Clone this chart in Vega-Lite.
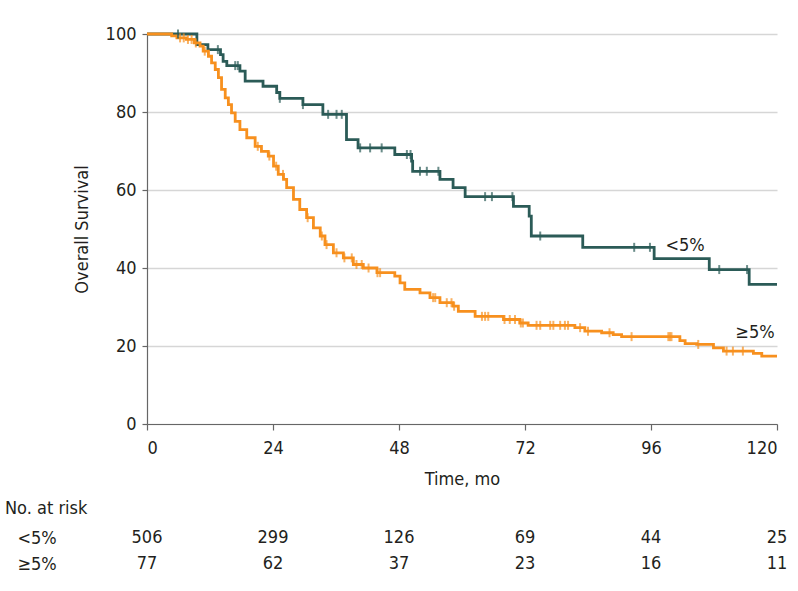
{
  "$schema": "https://vega.github.io/schema/vega-lite/v6.json",
  "padding": {"left": 5, "top": 25, "right": 5, "bottom": 5},
  "background": "white",
  "spacing": 12,
  "config": {
    "font": "DejaVu Sans Condensed, Roboto, sans-serif",
    "view": {"stroke": null},
    "axis": {"labelFont": "DejaVu Sans Condensed, Roboto, sans-serif", "titleFont": "DejaVu Sans Condensed, Roboto, sans-serif", "labelColor": "#231f20", "titleColor": "#231f20"},
    "title": {"font": "DejaVu Sans Condensed, Roboto, sans-serif"},
    "text": {"font": "DejaVu Sans Condensed, Roboto, sans-serif"}
  },
  "datasets": {
    "curves": [
      {"group": "<5%", "time": 0, "surv": 100},
      {"group": "<5%", "time": 9.5, "surv": 97.3},
      {"group": "<5%", "time": 11.6, "surv": 96.0},
      {"group": "<5%", "time": 14.0, "surv": 94.7},
      {"group": "<5%", "time": 14.5, "surv": 93.0},
      {"group": "<5%", "time": 15.2, "surv": 91.9},
      {"group": "<5%", "time": 17.7, "surv": 90.5},
      {"group": "<5%", "time": 18.7, "surv": 87.9},
      {"group": "<5%", "time": 22.1, "surv": 86.6},
      {"group": "<5%", "time": 24.7, "surv": 85.0},
      {"group": "<5%", "time": 25.3, "surv": 83.5},
      {"group": "<5%", "time": 29.7, "surv": 81.9},
      {"group": "<5%", "time": 33.5, "surv": 79.4},
      {"group": "<5%", "time": 38.0, "surv": 72.9},
      {"group": "<5%", "time": 40.2, "surv": 70.8},
      {"group": "<5%", "time": 47.2, "surv": 69.1},
      {"group": "<5%", "time": 50.4, "surv": 67.4},
      {"group": "<5%", "time": 50.6, "surv": 64.8},
      {"group": "<5%", "time": 55.8, "surv": 62.7},
      {"group": "<5%", "time": 58.3, "surv": 60.6},
      {"group": "<5%", "time": 60.6, "surv": 58.3},
      {"group": "<5%", "time": 69.8, "surv": 55.8},
      {"group": "<5%", "time": 72.8, "surv": 53.3},
      {"group": "<5%", "time": 73.2, "surv": 48.2},
      {"group": "<5%", "time": 83.0, "surv": 45.3},
      {"group": "<5%", "time": 96.6, "surv": 42.4},
      {"group": "<5%", "time": 107.1, "surv": 39.6},
      {"group": "<5%", "time": 114.7, "surv": 35.8},
      {"group": "<5%", "time": 120, "surv": 35.8},
      {"group": "≥5%", "time": 0, "surv": 100},
      {"group": "≥5%", "time": 4.7, "surv": 99.5},
      {"group": "≥5%", "time": 5.7, "surv": 99.0},
      {"group": "≥5%", "time": 7.5, "surv": 98.6},
      {"group": "≥5%", "time": 9.0, "surv": 97.7},
      {"group": "≥5%", "time": 10.1, "surv": 96.9},
      {"group": "≥5%", "time": 10.7, "surv": 95.6},
      {"group": "≥5%", "time": 11.7, "surv": 94.3},
      {"group": "≥5%", "time": 12.3, "surv": 92.6},
      {"group": "≥5%", "time": 13.0, "surv": 90.9},
      {"group": "≥5%", "time": 13.6, "surv": 88.8},
      {"group": "≥5%", "time": 14.2, "surv": 85.8},
      {"group": "≥5%", "time": 14.9, "surv": 83.6},
      {"group": "≥5%", "time": 15.5, "surv": 81.9},
      {"group": "≥5%", "time": 16.1, "surv": 79.8},
      {"group": "≥5%", "time": 16.8, "surv": 77.6},
      {"group": "≥5%", "time": 17.7, "surv": 75.5},
      {"group": "≥5%", "time": 19.0, "surv": 73.4},
      {"group": "≥5%", "time": 20.6, "surv": 71.2},
      {"group": "≥5%", "time": 21.8, "surv": 69.9},
      {"group": "≥5%", "time": 23.1, "surv": 68.7},
      {"group": "≥5%", "time": 24.1, "surv": 66.1},
      {"group": "≥5%", "time": 25.0, "surv": 64.0},
      {"group": "≥5%", "time": 26.0, "surv": 62.7},
      {"group": "≥5%", "time": 26.6, "surv": 60.6},
      {"group": "≥5%", "time": 27.9, "surv": 57.6},
      {"group": "≥5%", "time": 29.1, "surv": 55.0},
      {"group": "≥5%", "time": 30.4, "surv": 52.9},
      {"group": "≥5%", "time": 31.7, "surv": 50.3},
      {"group": "≥5%", "time": 33.0, "surv": 48.2},
      {"group": "≥5%", "time": 33.9, "surv": 46.0},
      {"group": "≥5%", "time": 35.5, "surv": 43.9},
      {"group": "≥5%", "time": 37.4, "surv": 42.6},
      {"group": "≥5%", "time": 39.3, "surv": 40.9},
      {"group": "≥5%", "time": 41.2, "surv": 40.0},
      {"group": "≥5%", "time": 43.8, "surv": 38.8},
      {"group": "≥5%", "time": 47.2, "surv": 37.9},
      {"group": "≥5%", "time": 48.2, "surv": 36.2},
      {"group": "≥5%", "time": 49.1, "surv": 34.5},
      {"group": "≥5%", "time": 52.0, "surv": 33.6},
      {"group": "≥5%", "time": 53.9, "surv": 32.4},
      {"group": "≥5%", "time": 55.8, "surv": 31.1},
      {"group": "≥5%", "time": 58.3, "surv": 30.2},
      {"group": "≥5%", "time": 59.3, "surv": 28.9},
      {"group": "≥5%", "time": 62.5, "surv": 27.6},
      {"group": "≥5%", "time": 67.9, "surv": 26.8},
      {"group": "≥5%", "time": 71.0, "surv": 25.9},
      {"group": "≥5%", "time": 72.6, "surv": 25.3},
      {"group": "≥5%", "time": 81.5, "surv": 24.7},
      {"group": "≥5%", "time": 83.4, "surv": 23.8},
      {"group": "≥5%", "time": 86.6, "surv": 23.4},
      {"group": "≥5%", "time": 88.8, "surv": 22.9},
      {"group": "≥5%", "time": 90.4, "surv": 22.4},
      {"group": "≥5%", "time": 101.5, "surv": 21.4},
      {"group": "≥5%", "time": 102.5, "surv": 20.6},
      {"group": "≥5%", "time": 104.7, "surv": 20.4},
      {"group": "≥5%", "time": 107.9, "surv": 19.5},
      {"group": "≥5%", "time": 109.8, "surv": 18.7},
      {"group": "≥5%", "time": 115.5, "surv": 18.1},
      {"group": "≥5%", "time": 117.1, "surv": 17.4},
      {"group": "≥5%", "time": 120, "surv": 17.4}
    ],
    "censors": [
      {"group": "<5%", "time": 5.9, "surv": 100},
      {"group": "<5%", "time": 13.5, "surv": 96.0},
      {"group": "<5%", "time": 16.8, "surv": 91.9},
      {"group": "<5%", "time": 17.3, "surv": 91.9},
      {"group": "<5%", "time": 25.3, "surv": 83.5},
      {"group": "<5%", "time": 29.7, "surv": 81.9},
      {"group": "<5%", "time": 34.5, "surv": 79.4},
      {"group": "<5%", "time": 36.1, "surv": 79.4},
      {"group": "<5%", "time": 37.1, "surv": 79.4},
      {"group": "<5%", "time": 40.6, "surv": 70.8},
      {"group": "<5%", "time": 42.5, "surv": 70.8},
      {"group": "<5%", "time": 44.7, "surv": 70.8},
      {"group": "<5%", "time": 49.5, "surv": 69.1},
      {"group": "<5%", "time": 50.2, "surv": 69.1},
      {"group": "<5%", "time": 52.0, "surv": 64.8},
      {"group": "<5%", "time": 53.3, "surv": 64.8},
      {"group": "<5%", "time": 55.5, "surv": 64.8},
      {"group": "<5%", "time": 64.4, "surv": 58.3},
      {"group": "<5%", "time": 65.7, "surv": 58.3},
      {"group": "<5%", "time": 69.6, "surv": 58.3},
      {"group": "<5%", "time": 74.9, "surv": 48.2},
      {"group": "<5%", "time": 92.8, "surv": 45.3},
      {"group": "<5%", "time": 95.8, "surv": 45.3},
      {"group": "<5%", "time": 109.0, "surv": 39.6},
      {"group": "<5%", "time": 114.3, "surv": 39.6},
      {"group": "≥5%", "time": 6.3, "surv": 99.0},
      {"group": "≥5%", "time": 7.0, "surv": 99.0},
      {"group": "≥5%", "time": 7.8, "surv": 98.6},
      {"group": "≥5%", "time": 8.5, "surv": 98.6},
      {"group": "≥5%", "time": 9.3, "surv": 97.7},
      {"group": "≥5%", "time": 11.0, "surv": 95.6},
      {"group": "≥5%", "time": 21.1, "surv": 71.2},
      {"group": "≥5%", "time": 23.3, "surv": 68.7},
      {"group": "≥5%", "time": 24.6, "surv": 66.1},
      {"group": "≥5%", "time": 25.9, "surv": 64.0},
      {"group": "≥5%", "time": 30.6, "surv": 52.9},
      {"group": "≥5%", "time": 33.3, "surv": 48.2},
      {"group": "≥5%", "time": 34.2, "surv": 46.0},
      {"group": "≥5%", "time": 36.1, "surv": 43.9},
      {"group": "≥5%", "time": 37.6, "surv": 42.6},
      {"group": "≥5%", "time": 39.0, "surv": 42.6},
      {"group": "≥5%", "time": 39.9, "surv": 40.9},
      {"group": "≥5%", "time": 40.9, "surv": 40.9},
      {"group": "≥5%", "time": 42.2, "surv": 40.0},
      {"group": "≥5%", "time": 43.9, "surv": 38.8},
      {"group": "≥5%", "time": 44.4, "surv": 38.8},
      {"group": "≥5%", "time": 54.5, "surv": 32.4},
      {"group": "≥5%", "time": 54.9, "surv": 32.4},
      {"group": "≥5%", "time": 57.1, "surv": 31.1},
      {"group": "≥5%", "time": 58.0, "surv": 31.1},
      {"group": "≥5%", "time": 58.5, "surv": 30.2},
      {"group": "≥5%", "time": 63.8, "surv": 27.6},
      {"group": "≥5%", "time": 64.4, "surv": 27.6},
      {"group": "≥5%", "time": 65.0, "surv": 27.6},
      {"group": "≥5%", "time": 68.1, "surv": 26.8},
      {"group": "≥5%", "time": 69.1, "surv": 26.8},
      {"group": "≥5%", "time": 70.1, "surv": 26.8},
      {"group": "≥5%", "time": 71.2, "surv": 25.9},
      {"group": "≥5%", "time": 71.6, "surv": 25.9},
      {"group": "≥5%", "time": 74.2, "surv": 25.3},
      {"group": "≥5%", "time": 74.9, "surv": 25.3},
      {"group": "≥5%", "time": 76.8, "surv": 25.3},
      {"group": "≥5%", "time": 77.4, "surv": 25.3},
      {"group": "≥5%", "time": 78.7, "surv": 25.3},
      {"group": "≥5%", "time": 79.6, "surv": 25.3},
      {"group": "≥5%", "time": 80.2, "surv": 25.3},
      {"group": "≥5%", "time": 82.5, "surv": 24.7},
      {"group": "≥5%", "time": 84.0, "surv": 23.8},
      {"group": "≥5%", "time": 88.1, "surv": 23.4},
      {"group": "≥5%", "time": 92.3, "surv": 22.4},
      {"group": "≥5%", "time": 99.3, "surv": 22.4},
      {"group": "≥5%", "time": 99.6, "surv": 22.4},
      {"group": "≥5%", "time": 99.9, "surv": 22.4},
      {"group": "≥5%", "time": 105.0, "surv": 20.4},
      {"group": "≥5%", "time": 110.4, "surv": 18.7},
      {"group": "≥5%", "time": 111.6, "surv": 18.7},
      {"group": "≥5%", "time": 113.5, "surv": 18.7}
    ],
    "labels": [
      {"group": "<5%", "time": 102.5, "surv": 45.6},
      {"group": "≥5%", "time": 115.8, "surv": 23.4}
    ],
    "risk": [
      {"row": "<5%", "time": 0, "n": 506},
      {"row": "<5%", "time": 24, "n": 299},
      {"row": "<5%", "time": 48, "n": 126},
      {"row": "<5%", "time": 72, "n": 69},
      {"row": "<5%", "time": 96, "n": 44},
      {"row": "<5%", "time": 120, "n": 25},
      {"row": "≥5%", "time": 0, "n": 77},
      {"row": "≥5%", "time": 24, "n": 62},
      {"row": "≥5%", "time": 48, "n": 37},
      {"row": "≥5%", "time": 72, "n": 23},
      {"row": "≥5%", "time": 96, "n": 16},
      {"row": "≥5%", "time": 120, "n": 11}
    ]
  },
  "vconcat": [
    {
      "width": 630,
      "height": 390,
      "encoding": {
        "x": {
          "field": "time", "type": "quantitative",
          "scale": {"domain": [0, 120], "nice": false},
          "axis": {
            "values": [0, 24, 48, 72, 96, 120],
            "title": "Time, mo",
            "titleFontSize": 18, "titleFontWeight": "normal", "titlePadding": 13,
            "labelFontSize": 18, "labelPadding": 9,
            "tickSize": 6, "tickColor": "#666666", "domainColor": "#666666",
            "domainWidth": 1.2, "tickWidth": 1.2, "grid": false
          }
        },
        "y": {
          "field": "surv", "type": "quantitative",
          "scale": {"domain": [0, 100], "nice": false},
          "axis": {
            "values": [0, 20, 40, 60, 80, 100],
            "title": "Overall Survival",
            "titleFontSize": 18, "titleFontWeight": "normal", "titlePadding": 14,
            "labelFontSize": 18, "labelPadding": 6,
            "tickSize": 5, "tickColor": "#666666", "domainColor": "#666666",
            "domainWidth": 1.2, "tickWidth": 1.2,
            "grid": true, "gridColor": "#d6d6d6", "gridWidth": 1.5
          }
        },
        "color": {
          "field": "group", "type": "nominal",
          "scale": {"domain": ["<5%", "≥5%"], "range": ["#2b5b57", "#f7901e"]},
          "legend": null
        }
      },
      "layer": [
        {
          "data": {"name": "curves"},
          "mark": {"type": "line", "interpolate": "step-after", "strokeWidth": 2.8}
        },
        {
          "data": {"name": "censors"},
          "mark": {"type": "tick", "orient": "vertical", "size": 9, "thickness": 2}
        },
        {
          "data": {"name": "labels"},
          "mark": {"type": "text", "fontSize": 18, "align": "center", "baseline": "middle"},
          "encoding": {"text": {"field": "group"}, "color": {"value": "#231f20"}}
        }
      ]
    },
    {
      "width": 630,
      "height": 52,
      "data": {"name": "risk"},
      "title": {"text": "No. at risk", "anchor": "start", "frame": "group", "dx": -142, "fontSize": 18, "fontWeight": "normal", "color": "#231f20", "offset": 7},
      "mark": {"type": "text", "fontSize": 18, "align": "center", "baseline": "middle", "color": "#231f20"},
      "encoding": {
        "x": {"field": "time", "type": "quantitative", "scale": {"domain": [0, 120], "nice": false}, "axis": null},
        "y": {
          "field": "row", "type": "nominal",
          "scale": {"domain": ["<5%", "≥5%"]},
          "axis": {"title": null, "domain": false, "ticks": false, "tickSize": 0, "labelAlign": "left", "labelPadding": 130, "labelFontSize": 18}
        },
        "text": {"field": "n", "type": "quantitative"}
      }
    }
  ]
}
